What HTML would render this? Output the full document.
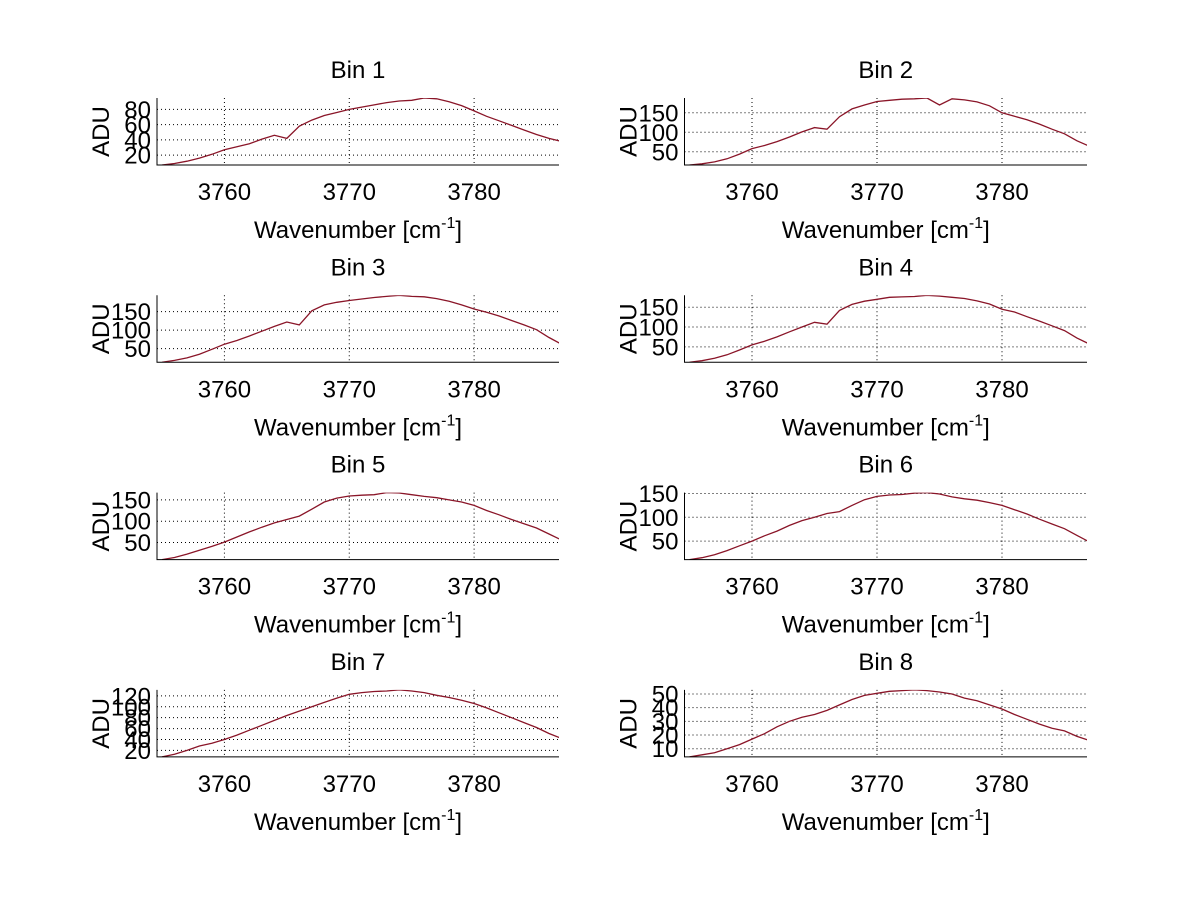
<!DOCTYPE html>
<html><head><meta charset="utf-8"><style>
html,body{margin:0;padding:0;background:#fff;}
svg{display:block;font-family:"Liberation Sans",sans-serif;}
</style></head><body>
<svg id="fig" width="1200" height="901" viewBox="0 0 1200 901" xmlns="http://www.w3.org/2000/svg">
<rect width="1200" height="901" fill="#fff"/>
</svg>
<script>
const wavenumbers = [3755,3756,3757,3758,3759,3760,3761,3762,3763,3764,3765,3766,3767,3768,3769,3770,3771,3772,3773,3774,3775,3776,3777,3778,3779,3780,3781,3782,3783,3784,3785,3786,3787];
const bin1 = [7,9,12,16,21,27,31,35,41,46,42,58,66,72,76,80,83,86,89,91,92,95,94,90,85,78,71,65,59,53,47,42,38];
const bin2 = [16,19,24,32,44,58,66,76,88,101,112,108,140,160,170,179,182,185,186,188,170,186,183,178,168,150,141,132,121,108,96,78,64];
const bin3 = [13,18,25,35,48,62,72,84,97,110,122,114,152,168,175,180,184,188,191,194,191,190,185,178,168,157,148,138,126,114,101,80,62];
const bin4 = [11,15,21,30,42,55,64,75,88,100,112,107,142,157,165,170,175,176,177,180,178,175,172,166,158,145,138,126,115,103,91,72,57];
const bin5 = [10,15,23,32,41,51,63,75,86,96,104,112,128,145,154,159,161,162,167,166,162,158,155,150,145,137,125,115,104,94,84,70,56];
const bin6 = [11,15,21,30,40,50,61,71,83,93,100,108,112,125,137,144,147,148,151,152,149,143,139,136,131,125,116,107,96,86,76,62,48];
const bin7 = [8,13,20,28,33,40,48,57,66,75,84,92,100,108,116,123,126,128,129,131,129,126,121,117,112,106,98,89,80,71,62,51,42];
const bin8 = [4,5.5,7,10,13,17,21,26,30,33,35,38,42,46,49,50.5,52,52.5,53,52.5,51.5,50,47,45,42,39,35,31.5,28,25,23,19,16];
const binNames = ["Bin 1","Bin 2","Bin 3","Bin 4","Bin 5","Bin 6","Bin 7","Bin 8"];
const xTicks = [3760,3770,3780];
const yTicks1 = [20,40,60,80];
const yTicks2 = [50,100,150];
const yTicks7 = [20,40,60,80,100,120];
const yTicks8 = [10,20,30,40,50];
const xMin = 3754.6, xMax = 3786.8;

const series = [bin1,bin2,bin3,bin4,bin5,bin6,bin7,bin8];
const yTickSets = [yTicks1,yTicks2,yTicks2,yTicks2,yTicks2,yTicks2,yTicks7,yTicks8];
const NS = "http://www.w3.org/2000/svg";
const fig = document.getElementById('fig');
function mk(tag, attrs, parent){const e=document.createElementNS(NS,tag);for(const k in attrs)e.setAttribute(k,attrs[k]);(parent||fig).appendChild(e);return e;}

series.forEach((data,i)=>{
  const col=i%2, row=Math.floor(i/2);
  const L = col===0?157:684.5, R = col===0?559:1087;
  const T = 98+row*197.3, B = T+67;
  const yMin=Math.min(...data), yMax=Math.max(...data);
  const sx = v => L+(v-xMin)/(xMax-xMin)*(R-L);
  const sy = v => B-(v-yMin)/(yMax-yMin)*(B-T);
  const g = mk('g',{});
  
  
  const cp = mk('clipPath',{id:'cp'+i},g);
  mk('rect',{x:L,y:T,width:R-L,height:B-T},cp);
  xTicks.forEach(t=>{
    const ln=mk('line',{x1:sx(t),x2:sx(t),y1:T,y2:B,stroke:'#000','stroke-width':1,'stroke-dasharray':'1,3'},g);
    
    
    const tx=mk('text',{x:sx(t),y:B+35,'font-size':24,'text-anchor':'middle',fill:'#000'},g);
    tx.textContent=t;
    
    
  });
  yTickSets[i].forEach(t=>{
    const y=sy(t);
    if(y<T-1||y>B+1)return;
    const ln=mk('line',{x1:L,x2:R,y1:y,y2:y,stroke:'#000','stroke-width':1,'stroke-dasharray':'1,3'},g);
    
    
    const tx=mk('text',{x:L-6,y:y+8.5,'font-size':24,'text-anchor':'end',fill:'#000'},g);
    tx.textContent=t;
    
    
  });
  const pts=data.map((v,k)=>sx(wavenumbers[k]).toFixed(1)+','+sy(v).toFixed(1)).join(' ');
  const pl=mk('polyline',{points:pts,fill:'none',stroke:'#8a1528','stroke-width':1.3,'clip-path':'url(#cp'+i+')'},g);
  
  
  const ax=mk('path',{d:`M${L},${T}V${B}H${R}`,fill:'none',stroke:'#000','stroke-width':1},g);
  
  
  const title=mk('text',{x:(L+R)/2,y:T-20,'font-size':24,'text-anchor':'middle',fill:'#000'},g);
  title.textContent=binNames[i];
  
  
  const xl=mk('text',{x:(L+R)/2,y:B+73,'font-size':24,'text-anchor':'middle',fill:'#000'},g);
  xl.innerHTML='Wavenumber [cm<tspan font-size="16" dy="-10">-1</tspan><tspan dy="10">]</tspan>';
  
  
  const cy=(T+B)/2, cx=L-57;
  const yl=mk('text',{x:cx,y:cy,'font-size':24,'text-anchor':'middle',fill:'#000',transform:`rotate(-90 ${cx} ${cy}) translate(0 9)`},g);
  yl.textContent='ADU';
  
  
});
</script>
</body></html>
